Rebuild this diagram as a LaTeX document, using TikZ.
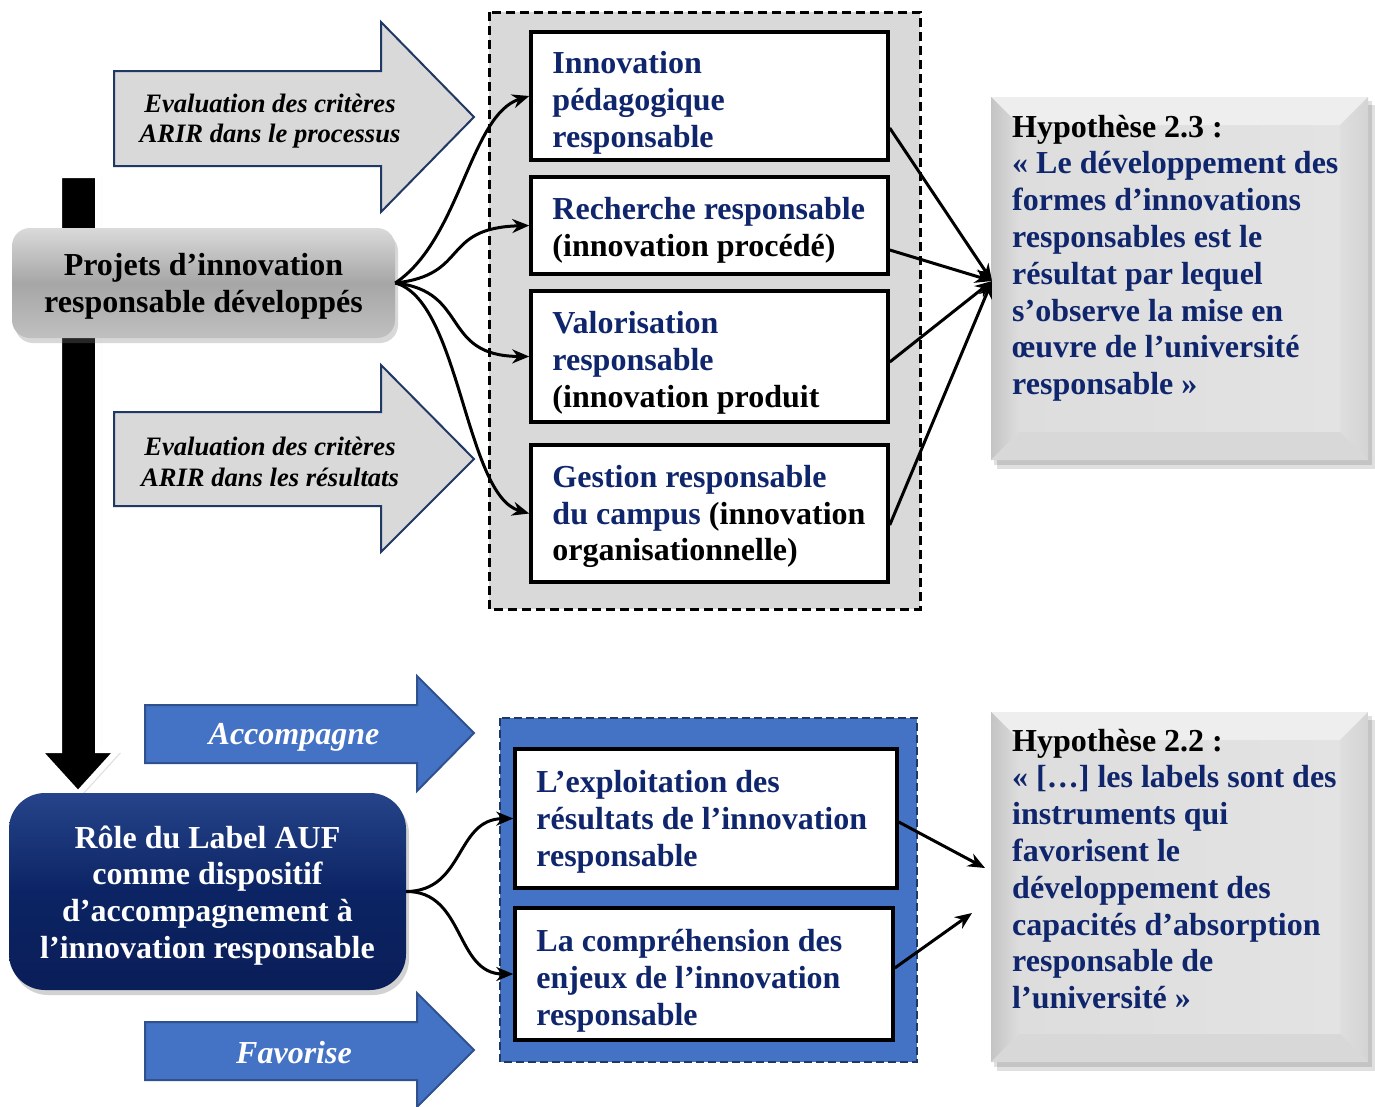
\documentclass[tikz,border=0pt]{standalone}
\usepackage{fontspec}
\setmainfont{Liberation Serif}
\usetikzlibrary{arrows.meta,shadows,calc}
\definecolor{navytxt}{RGB}{16,38,108}
\definecolor{arrowline}{RGB}{32,56,100}
\definecolor{lgray}{RGB}{217,217,217}
\definecolor{bluefill}{RGB}{68,114,196}
\definecolor{blueline}{RGB}{47,82,143}
\definecolor{darknavy}{RGB}{31,56,100}
\definecolor{bvface}{RGB}{227,227,227}
\definecolor{bvtop}{RGB}{238,238,238}
\definecolor{bvleftA}{RGB}{196,196,196}
\definecolor{bvleftB}{RGB}{221,221,221}
\definecolor{bvrightA}{RGB}{222,222,222}
\definecolor{bvrightB}{RGB}{212,212,212}
\definecolor{bvbot}{RGB}{216,216,216}
\newcommand\bigf{\fontsize{32}{36.8}\selectfont\bfseries}
\newcommand\itf{\fontsize{26.6}{30.8}\selectfont\bfseries\itshape}
\newcommand{\mybevel}[4]{%
 \fill[black,opacity=0.12] (#1+6,#2+8) rectangle (#3+7,#4+9);
 \fill[black,opacity=0.12] (#1+3,#2+4) rectangle (#3+4,#4+5);
 \fill[bvface] (#1,#2) rectangle (#3,#4);
 \shade[left color=bvleftB, right color=bvface] (#1+28,#2+28) rectangle (#3-28,#4-28);
 \fill[bvtop] (#1,#2) -- (#3,#2) -- (#3-28,#2+28) -- (#1+28,#2+28) -- cycle;
 \shade[left color=bvleftA, right color=bvleftB] (#1,#2) -- (#1+28,#2+28) -- (#1+28,#4-28) -- (#1,#4) -- cycle;
 \shade[left color=bvrightA, right color=bvrightB] (#3,#2) -- (#3,#4) -- (#3-28,#4-28) -- (#3-28,#2+28) -- cycle;
 \fill[bvbot] (#1,#4) -- (#1+28,#4-28) -- (#3-28,#4-28) -- (#3,#4) -- cycle;
}
\begin{document}
\begin{tikzpicture}[x=1pt,y=-1pt,
  ibox/.style={draw=black, line width=3.5pt, fill=white, inner sep=0pt},
  itxt/.style={anchor=west, align=left, inner sep=0pt, font=\bigf, text=navytxt, xshift=23pt},
  hyptxt/.style={anchor=base west, align=flush left, text width=352pt, inner sep=0pt, font=\bigf, text=navytxt},
  conn/.style={line width=3pt, -{Stealth[length=17pt,width=14pt]}},
  garrow/.style={fill=lgray, draw=arrowline, line width=2pt, line join=miter},
  barrow/.style={fill=bluefill, draw=blueline, line width=2pt, line join=miter},
  gtxt/.style={font=\itf, align=center, inner sep=0pt},
  btxt/.style={font=\bigf\itshape, text=white, inner sep=0pt},
]
\useasboundingbox (0,0) rectangle (1375,1106);
\fill[white] (0,0) rectangle (1375,1106);

% big black down arrow
\draw[white, line width=6pt, fill=black, line join=miter,
  drop shadow={shadow xshift=3pt, shadow yshift=-3pt, opacity=0.25}]
  (59,175) -- (98,175) -- (98,750) -- (118,750) -- (78,794) -- (38,750) -- (59,750) -- cycle;

% grey arrows
\draw[garrow] (114,71) -- (381,71) -- (381,22) -- (474,117) -- (381,212) -- (381,166) -- (114,166) -- cycle;
\draw[garrow] (114,412) -- (381,412) -- (381,365) -- (474,459) -- (381,552) -- (381,506) -- (114,506) -- cycle;
\node[gtxt] (ga1) at (270,121) {Evaluation des critères\\ARIR dans le processus};
\node[gtxt] (ga2) at (270,462) {Evaluation des critères\\ARIR dans les résultats};

% blue arrows
\draw[barrow] (145,705) -- (417,705) -- (417,676) -- (474,733) -- (417,791) -- (417,763) -- (145,763) -- cycle;
\draw[barrow] (145,1022) -- (417,1022) -- (417,993) -- (474,1050) -- (417,1107) -- (417,1080) -- (145,1080) -- cycle;
\node[btxt] (ba1) at (294,737) {Accompagne};
\node[btxt] (ba2) at (294,1053) {Favorise};

% Projets box
\node[rounded corners=18pt, minimum width=383pt, minimum height=110pt, align=center, font=\bigf,
  top color={rgb,255:red,218;green,218;blue,218}, bottom color={rgb,255:red,192;green,192;blue,192},
  middle color={rgb,255:red,166;green,166;blue,166},
  drop shadow={shadow xshift=3pt, shadow yshift=-5pt, opacity=0.3}] (P) at (203.5,283) {};
\node[align=center, font=\bigf, inner sep=0pt, yshift=-3pt] (Pt) at (P.center) {Projets d’innovation\\responsable développés};

% Role box
\node[rounded corners=36pt, minimum width=397pt, minimum height=197pt,
  top color={rgb,255:red,38;green,68;blue,138}, bottom color={rgb,255:red,10;green,30;blue,88},
  middle color={rgb,255:red,12;green,36;blue,100},
  drop shadow={shadow xshift=3pt, shadow yshift=-5pt, opacity=0.35}] (R) at (207.5,891.5) {};
\node[align=center, font=\bigf, text=white, inner sep=0pt, yshift=-4pt] (Rt) at (R.center)
  {Rôle du Label AUF\\comme dispositif\\d’accompagnement à\\l’innovation responsable};

% containers
\draw[fill=lgray, draw=black, line width=3pt, dash pattern=on 9pt off 5pt] (489,12) rectangle (920,609);
\draw[fill=bluefill, draw=darknavy, line width=2.5pt, dash pattern=on 8pt off 4pt] (500,718) rectangle (917,1062);

% white boxes
\node[ibox, minimum width=357pt, minimum height=128pt] (b1) at (709.5,96) {};
\node[ibox, minimum width=357pt, minimum height=97pt] (b2) at (709.5,225.5) {};
\node[ibox, minimum width=357pt, minimum height=131pt] (b3) at (709.5,356.5) {};
\node[ibox, minimum width=357pt, minimum height=137pt] (b4) at (709.5,513.5) {};
\node[ibox, minimum width=382pt, minimum height=139pt] (b5) at (706,818.5) {};
\node[ibox, minimum width=378pt, minimum height=132pt] (b6) at (704,974) {};

\node[itxt, yshift=-7pt] (t1) at (b1.west) {Innovation\\pédagogique\\responsable};
\node[itxt, yshift=-4.5pt] (t2) at (b2.west) {Recherche responsable\\\textcolor{black}{(innovation procédé)}};
\node[itxt, yshift=-6pt] (t3) at (b3.west) {Valorisation\\responsable\\\textcolor{black}{(innovation produit}};
\node[itxt, yshift=-3pt] (t4) at (b4.west) {Gestion responsable\\du campus \textcolor{black}{(innovation}\\\textcolor{black}{organisationnelle)}};
\node[itxt, yshift=-3pt] (t5) at (b5.west) {L’exploitation des\\résultats de l’innovation\\responsable};
\node[itxt, yshift=-7pt] (t6) at (b6.west) {La compréhension des\\enjeux de l’innovation\\responsable};

% curves from Projets
\draw[conn] (P.east) .. controls (460,240) and (470,115) .. (b1.west);
\draw[conn] (P.east) .. controls (470,275) and (440,228) .. (b2.west);
\draw[conn] (P.east) .. controls (470,291) and (440,356) .. (b3.west);
\draw[conn] (P.east) .. controls (460,300) and (465,495) .. (b4.west);

% curves from Role
\draw[conn] (R.east) .. controls (465,891) and (455,819) .. (b5.west);
\draw[conn] (R.east) .. controls (465,891) and (455,974) .. (b6.west);

% hypothesis boxes
\mybevel{991}{97}{1368}{460}
\mybevel{991}{712}{1368}{1062}
\node[hyptxt] (h3t) at (1012,137) {\textcolor{black}{Hypothèse 2.3 :}\\«~Le développement des\\formes d’innovations\\responsables est le\\résultat par lequel\\s’observe la mise en\\œuvre de l’université\\responsable~»};
\node[hyptxt] (h2t) at (1012,751) {\textcolor{black}{Hypothèse 2.2 :}\\«~[…] les labels sont des\\instruments qui\\favorisent le\\développement des\\capacités d’absorption\\responsable de\\l’université~»};

% arrows to hypotheses
\coordinate (h3in) at (992,281);
\coordinate (h2a) at (985,868);
\coordinate (h2b) at (972,913);
\draw[conn] ($(b1.east)+(0,32)$) -- (h3in);
\draw[conn] ($(b2.east)+(0,24.5)$) -- (h3in);
\draw[conn] ($(b3.east)+(0,5.5)$) -- (h3in);
\draw[conn] ($(b4.east)+(0,11.5)$) -- (h3in);
\draw[conn] ($(b5.east)+(0,3.5)$) -- (h2a);
\draw[conn] ($(b6.east)+(0,-6)$) -- (h2b);
\end{tikzpicture}
\end{document}
